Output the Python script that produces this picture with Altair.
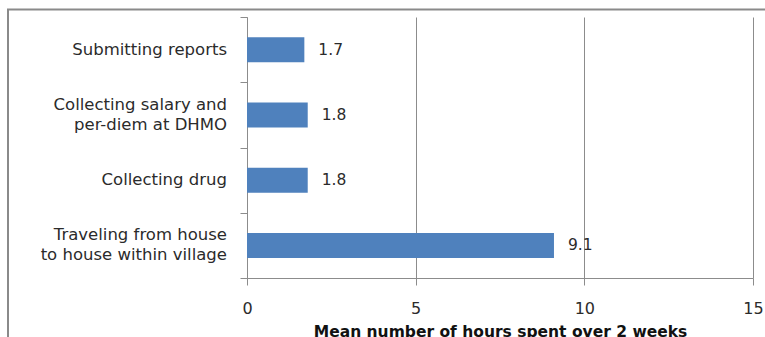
import altair as alt
import pandas as pd

# Activities (top to bottom) and mean hours spent over two weeks
tasks = [
    "Submitting reports",
    "Collecting salary and\nper-diem at DHMO",
    "Collecting drug",
    "Traveling from house\nto house within village",
]
hours = [1.7, 1.8, 1.8, 9.1]
x_ticks = [0, 5, 10, 15]

df = pd.DataFrame({"task": tasks, "hours": hours})

FONT = "DejaVu Sans"
GRID = "#8c8c8c"
TEXT = "#2b2b2b"

y_enc = alt.Y(
    "task:N",
    sort=tasks,
    title=None,
    scale=alt.Scale(paddingInner=0, paddingOuter=0),
    axis=alt.Axis(
        labels=False,
        tickSize=7,
        tickColor=GRID,
        tickBand="extent",
        domainColor=GRID,
        grid=False,
    ),
)

x_enc = alt.X(
    "hours:Q",
    title="Mean number of hours spent over 2 weeks",
    scale=alt.Scale(domain=[0, 15], nice=False),
    axis=alt.Axis(
        values=x_ticks,
        labelFont=FONT,
        labelFontSize=16,
        labelColor=TEXT,
        labelPadding=15,
        labelFlush=False,
        tickSize=7,
        tickColor=GRID,
        domainColor=GRID,
        grid=True,
        gridColor=GRID,
        gridWidth=1,
        gridOpacity=1,
        titleFont=FONT,
        titleFontSize=15.5,
        titleFontWeight="bold",
        titleColor="#111111",
        titlePadding=8,
    ),
)

base = alt.Chart(df)

bars = base.mark_bar(color="#4F81BD", size=25).encode(x=x_enc, y=y_enc)

values = base.mark_text(
    align="left", baseline="middle", dx=14, font=FONT, fontSize=15.5, color=TEXT
).encode(x="hours:Q", y=alt.Y("task:N", sort=tasks), text=alt.Text("hours:Q", format=".1f"))

# category labels left of the axis; two-line labels are centred on their band
label_style = dict(align="right", font=FONT, fontSize=16.5, color=TEXT, lineBreak="\n", lineHeight=20)
single = base.transform_filter("indexof(datum.task, '\\n') < 0").mark_text(
    baseline="middle", **label_style
).encode(x=alt.value(-20), y=alt.Y("task:N", sort=tasks), text="task:N")
double = base.transform_filter("indexof(datum.task, '\\n') >= 0").mark_text(
    baseline="line-bottom", **label_style
).encode(x=alt.value(-20), y=alt.Y("task:N", sort=tasks), text="task:N")

# outer frame around the figure
frame = alt.Chart(pd.DataFrame({"f": [0]})).mark_rect(
    fill="transparent", stroke="#8a8a8a", strokeWidth=2
).encode(
    x=alt.value(-239), x2=alt.value(560), y=alt.value(-7.5), y2=alt.value(360)
)

chart = (
    alt.layer(frame, bars, values, single, double)
    .properties(
        width=506,
        height=261,
        autosize=alt.AutoSizeParams(type="none"),
        padding={"left": 247, "top": 17, "right": 12, "bottom": 59},
        background="white",
    )
    .configure_view(stroke=None)
)

chart.save("out.html", embed_options={"renderer": "svg", "actions": False})
